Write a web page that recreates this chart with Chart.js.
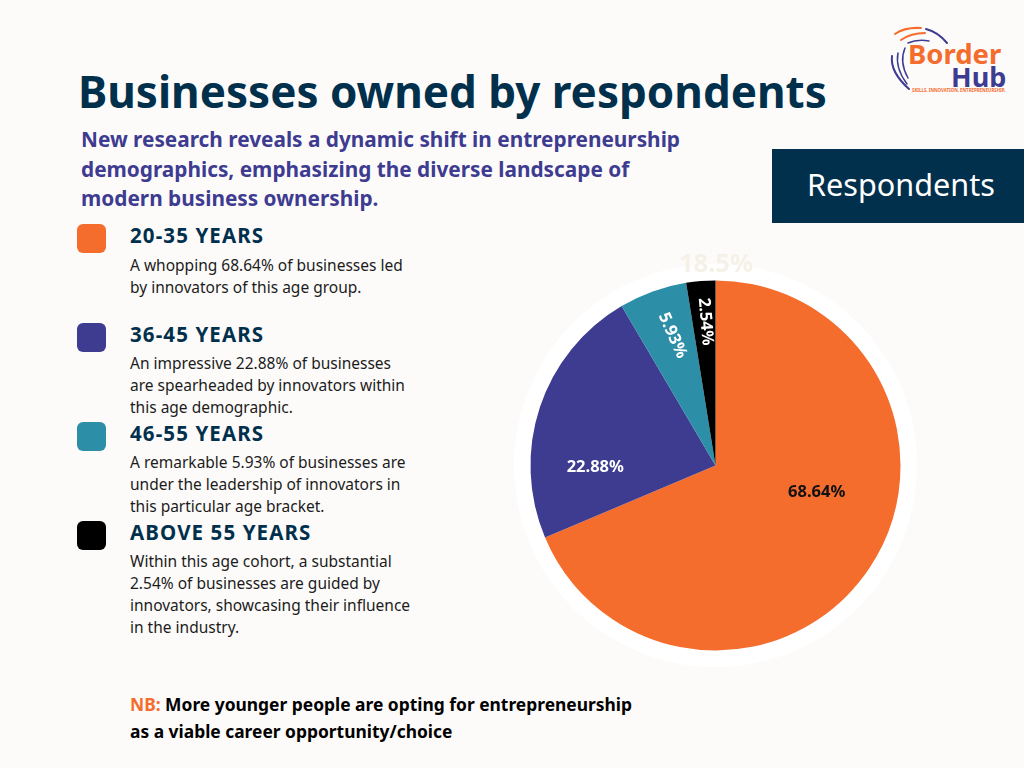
<!DOCTYPE html>
<html>
<head>
<meta charset="utf-8">
<script src="https://cdn.jsdelivr.net/npm/chart.js@4"></script>
<style>
  html, body { margin: 0; padding: 0; }
  body { width: 1024px; height: 768px; background: #fdfbfa; position: relative; overflow: hidden; font-family: "Noto Sans", sans-serif; }
  .abs { position: absolute; white-space: nowrap; }
  #title { left: 78px; top: 61px; font-size: 44px; font-weight: 700; color: #01304d; line-height: 60px; }
  #subtitle { left: 81px; top: 125px; font-size: 20.8px; font-weight: 700; color: #3e3c91; line-height: 29.5px; }
  #tab { left: 772px; top: 149px; width: 252px; height: 74px; background: #01304d; color: #fff; font-size: 30.6px; line-height: 70px; text-indent: 35px; }
  .swatch { position: absolute; left: 77px; width: 29px; height: 29px; border-radius: 6px; }
  .head { left: 130px; font-size: 20.5px; letter-spacing: 1.1px; font-weight: 700; color: #01304d; line-height: 26px; }
  .desc { left: 130px; font-size: 15.5px; color: #1c1c1c; line-height: 22px; }
  #ring { position: absolute; left: 514px; top: 264px; width: 403px; height: 403px; border-radius: 50%; background: #fff; }
  #chartWrap { position: absolute; left: 515px; top: 265px; width: 401px; height: 401px; }
  #ghost { left: 679px; top: 247px; font-size: 25.5px; font-weight: 700; color: #f6f1e7; line-height: 30px; }
  #note { left: 130px; top: 691px; font-size: 17.4px; font-weight: 700; color: #000; line-height: 27px; }
  #note span { color: #f46d2d; }
  #logo { position: absolute; left: 885px; top: 22px; }
</style>
</head>
<body>
<div class="abs" id="title">Businesses owned by respondents</div>
<div class="abs" id="subtitle">New research reveals a dynamic shift in entrepreneurship<br>demographics, emphasizing the diverse landscape of<br>modern business ownership.</div>
<div class="abs" id="tab">Respondents</div>

<svg id="logo" width="125" height="75" viewBox="0 0 125 75">
  <g fill="none" stroke-linecap="round">
    <path d="M10 12 Q20 5 36 6" stroke="#f46d2d" stroke-width="2"/>
    <path d="M16 18 Q26 11 40 11" stroke="#f46d2d" stroke-width="2"/>
    <path d="M23 21 Q32 17 44 19" stroke="#3e3c91" stroke-width="1.5"/>
    <path d="M41 7 Q53 10 62 21" stroke="#3e3c91" stroke-width="2"/>
    <path d="M20 26 Q14 40 23 56" stroke="#3e3c91" stroke-width="1.5"/>
    <path d="M13 31 Q10 46 22 62" stroke="#3e3c91" stroke-width="1.5"/>
    <path d="M7 34 Q5 50 24 67" stroke="#3e3c91" stroke-width="2"/>
  </g>
  <text x="23" y="42" font-family="Noto Sans" font-weight="700" font-size="27.5" fill="#f46d2d">Border</text>
  <text x="66" y="65" font-family="Noto Sans" font-weight="700" font-size="27" fill="#3e3c91">Hub</text>
  <text x="27" y="70" font-family="Noto Sans" font-weight="700" font-size="4.4" fill="#f46d2d">SKILLS. INNOVATION. ENTREPRENEURSHIP.</text>
</svg>

<div class="swatch" style="top:224px;background:#f46d2d"></div>
<div class="abs head" style="top:222px">20-35 YEARS</div>
<div class="abs desc" style="top:254px">A whopping 68.64% of businesses led<br>by innovators of this age group.</div>

<div class="swatch" style="top:323px;background:#3e3c91"></div>
<div class="abs head" style="top:321px">36-45 YEARS</div>
<div class="abs desc" style="top:352px">An impressive 22.88% of businesses<br>are spearheaded by innovators within<br>this age demographic.</div>

<div class="swatch" style="top:422px;background:#2d8ea8"></div>
<div class="abs head" style="top:420px">46-55 YEARS</div>
<div class="abs desc" style="top:451px">A remarkable 5.93% of businesses are<br>under the leadership of innovators in<br>this particular age bracket.</div>

<div class="swatch" style="top:521px;background:#000"></div>
<div class="abs head" style="top:519px">ABOVE 55 YEARS</div>
<div class="abs desc" style="top:550px">Within this age cohort, a substantial<br>2.54% of businesses are guided by<br>innovators, showcasing their influence<br>in the industry.</div>

<div id="ring"></div>
<div id="chartWrap"><canvas id="pieChart"></canvas></div>
<div class="abs" id="ghost">18.5%</div>

<div class="abs" id="note"><span>NB:</span> More younger people are opting for entrepreneurship<br>as a viable career opportunity/choice</div>

<script>
const ageGroups = ["20-35 years", "36-45 years", "46-55 years", "Above 55 years"];
const shares = [68.64, 22.88, 5.93, 2.54];
const sliceColors = ["#f46d2d", "#3e3c91", "#2d8ea8", "#000000"];

// label placement inside each slice, as seen in the original
const labelInk = ["#111111", "#ffffff", "#ffffff", "#ffffff"];
const labelRadius = [0.565, 0.65, 0.74, 0.78];
const labelAngle = [104.6, 269, 341.7, 356];
const labelTurn = [0, 0, 66, 85];

const sliceLabels = {
  id: "sliceLabels",
  afterDatasetsDraw(chart) {
    const ctx = chart.ctx;
    chart.getDatasetMeta(0).data.forEach((arc, i) => {
      const a = (labelAngle[i] - 90) * Math.PI / 180;
      const r = arc.outerRadius * labelRadius[i];
      ctx.save();
      ctx.translate(arc.x + Math.cos(a) * r, arc.y + Math.sin(a) * r);
      ctx.rotate(labelTurn[i] * Math.PI / 180);
      ctx.font = '700 16.5px "Noto Sans"';
      ctx.fillStyle = labelInk[i];
      ctx.textAlign = "center";
      ctx.textBaseline = "middle";
      ctx.fillText(shares[i].toFixed(2) + "%", 0, 0);
      ctx.restore();
    });
  },
};

new Chart(document.getElementById("pieChart"), {
  type: "pie",
  data: {
    labels: ageGroups,
    datasets: [{ data: shares, backgroundColor: sliceColors, borderWidth: 0 }],
  },
  options: {
    responsive: true,
    maintainAspectRatio: false,
    animation: false,
    layout: { padding: 15.5 },
    plugins: { legend: { display: false }, tooltip: { enabled: false } },
  },
  plugins: [sliceLabels],
});
</script>
</body>
</html>
